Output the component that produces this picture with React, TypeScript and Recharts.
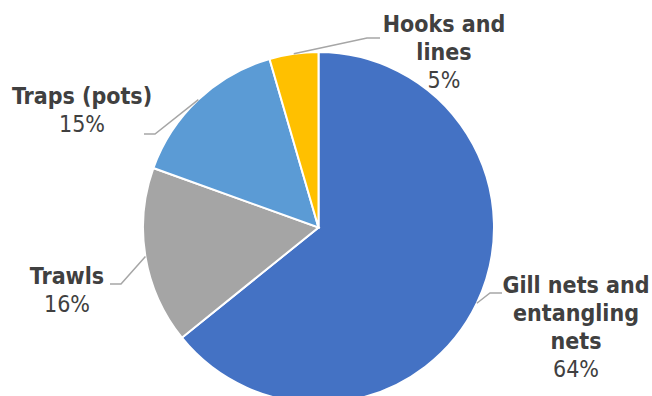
import React from "react";
import { PieChart, Pie, Cell } from "recharts";

const categories = [
  "Gill nets and\nentangling\nnets",
  "Trawls",
  "Traps (pots)",
  "Hooks and\nlines",
];
const shares = [64.2, 16.3, 15.0, 4.5];
const colors = ["#4472C4", "#A5A5A5", "#5B9BD5", "#FFC000"];

// label placement (elbow, end of leader line, text centre and first baseline)
const labelLayout = [
  { ex: 490, ey: 293, hx: 502, tx: 576, ty: 293 },
  { ex: 121, ey: 284, hx: 110, tx: 67, ty: 284 },
  { ex: 155, ey: 134, hx: 144, tx: 82, ty: 104 },
  { ex: 367, ey: 38, hx: 380, tx: 444, ty: 32 },
];

const data = categories.map((name, i) => ({ name, value: shares[i] }));
const total = shares.reduce((a, b) => a + b, 0);
const RAD = Math.PI / 180;
const FONT = "'DejaVu Sans Condensed', 'DejaVu Sans', sans-serif";
const LINE_H = 28;

const renderLabel = (props: any) => {
  const { cx, cy, midAngle, outerRadius, index, value } = props;
  const sx = cx + outerRadius * Math.cos(-midAngle * RAD);
  const sy = cy + outerRadius * Math.sin(-midAngle * RAD);
  const L = labelLayout[index];
  const lines = categories[index].split("\n");
  const pct = Math.round((value / total) * 100) + "%";
  return (
    <g key={"lbl" + index}>
      <polyline
        points={`${sx},${sy} ${L.ex},${L.ey} ${L.hx},${L.ey}`}
        fill="none"
        stroke="#A6A6A6"
        strokeWidth={1.5}
      />
      <text
        textAnchor="middle"
        fill="#404040"
        fontFamily={FONT}
        fontSize={23}
        style={{ fontStretch: "condensed" }}
      >
        {lines.map((ln, k) => (
          <tspan key={k} x={L.tx} y={L.ty + k * LINE_H} fontWeight="bold">
            {ln}
          </tspan>
        ))}
        <tspan x={L.tx} y={L.ty + lines.length * LINE_H}>
          {pct}
        </tspan>
      </text>
    </g>
  );
};

export default function App() {
  return (
    <div style={{ position: "absolute", left: 0, top: 0, width: 652, height: 396, background: "#fff" }}>
      <PieChart width={652} height={396} margin={{ top: 0, right: 0, bottom: 0, left: 0 }}>
        <Pie
          data={data}
          dataKey="value"
          nameKey="name"
          cx={318.5}
          cy={227.5}
          outerRadius={175.5}
          startAngle={90}
          endAngle={-270}
          stroke="#FFFFFF"
          strokeWidth={2}
          label={renderLabel}
          labelLine={false}
          isAnimationActive={false}
        >
          {data.map((d, i) => (
            <Cell key={i} fill={colors[i]} />
          ))}
        </Pie>
      </PieChart>
    </div>
  );
}
